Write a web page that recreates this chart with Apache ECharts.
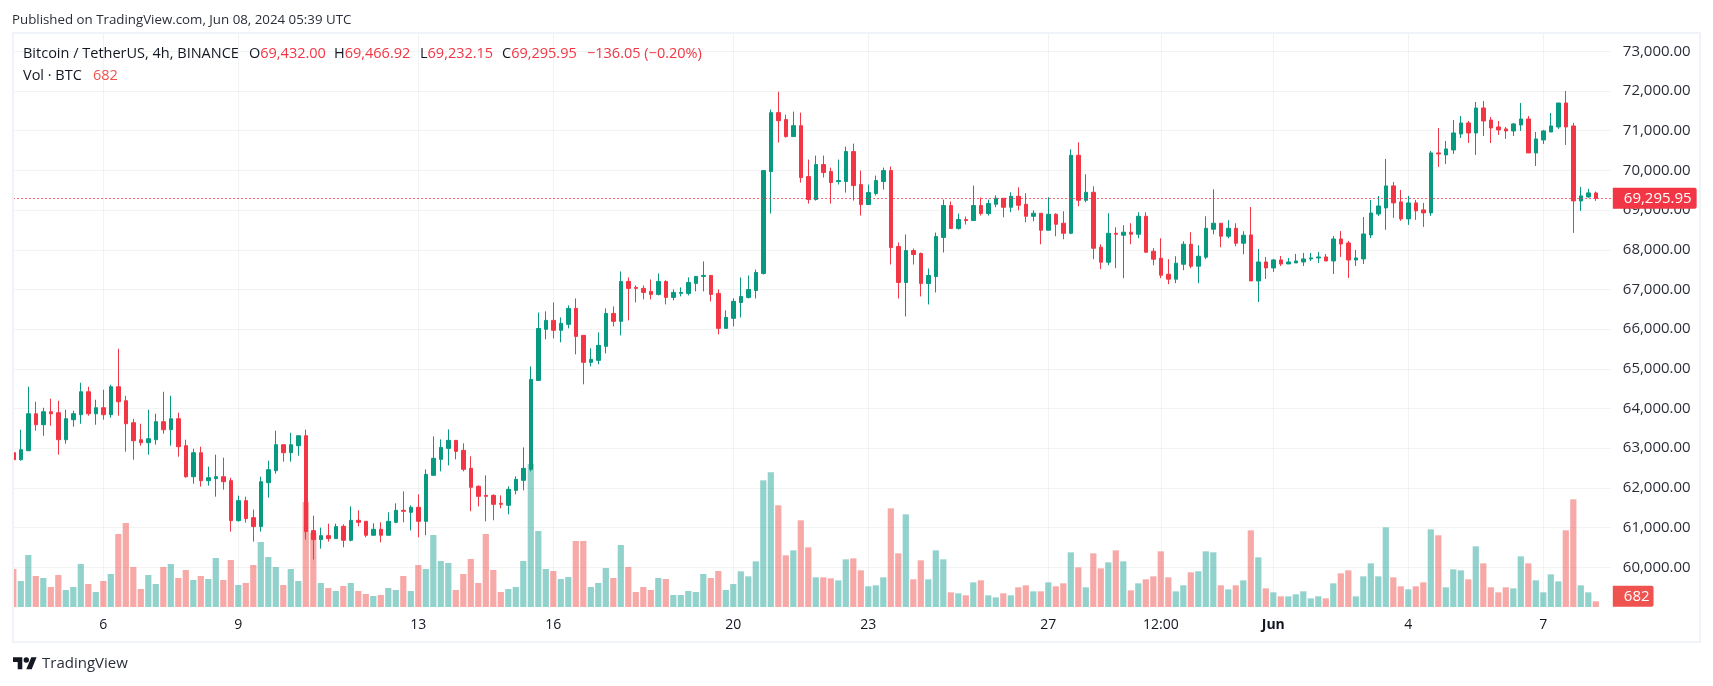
<!DOCTYPE html>
<html>
<head>
<meta charset="utf-8">
<title>BTCUSDT 4h</title>
<script src="https://cdn.jsdelivr.net/npm/echarts@6/dist/echarts.min.js"></script>
<style>
html, body { margin: 0; padding: 0; background: #fff; }
#chart { width: 1713px; height: 686px; }
</style>
</head>
<body>
<div id="chart"></div>
<script>
var opens = [
  62887,62711,62938,63869,63592,63919,63894,63215,63718,63844,
  64423,63869,64020,63844,64549,64196,63643,63215,63139,63215,
  63668,63466,63743,63064,62283,62887,62183,62233,62283,62183,
  61176,61679,61251,61025,62132,62434,63089,62887,63064,63315,
  60924,60698,60798,60723,61033,60681,61184,61159,60807,60958,
  60807,61134,61436,61385,61511,61159,62317,62720,62996,63198,
  62946,62493,62040,61813,61813,61612,61562,61939,62191,62468,
  64708,65995,66221,65970,66121,66523,65844,65164,65214,65567,
  66397,66196,67203,67052,67027,66951,66876,67203,66800,66901,
  66901,67153,67329,67354,66901,66020,66272,66672,66798,66974,
  67402,69970,71455,71279,70851,71127,69844,69265,70146,69970,
  69718,69718,70473,69642,69139,69416,69718,69995,68082,67176,
  67981,67906,67151,67327,68309,69114,68535,68762,68736,69114,
  68913,69146,69297,69071,69348,69146,68844,68920,68492,68895,
  68668,68416,70380,69247,69448,68064,67686,68416,68366,68442,
  68391,68844,67963,67787,67384,67259,67636,68139,67586,67812,
  68517,68668,68341,68542,68165,68373,67215,67693,67542,67744,
  67643,67668,67693,67769,67794,67819,67718,68272,68171,67743,
  67769,68373,68901,69055,69609,69206,68778,69181,69005,68929,
  70440,70389,70515,70918,71195,70943,71572,71270,71094,71044,
  70993,71144,71295,70440,70767,70968,71094,71698,71119,69231,
  69332,69432
];
var closes = [
  62711,62963,63869,63592,63919,63869,63215,63743,63869,64423,
  63869,64020,63844,64549,64171,63617,63189,63139,63240,63668,
  63466,63743,63038,62283,62887,62183,62258,62283,62157,61176,
  61679,61226,61025,62157,62460,63089,62887,63089,63315,60899,
  60698,60798,60723,61025,60681,61184,61134,60807,60958,60807,
  61159,61436,61411,61511,61159,62342,62745,63021,63198,62921,
  62468,62015,61788,61788,61587,61587,61964,62216,62493,64733,
  66017,66221,65970,66146,66523,65818,65164,65240,65592,66397,
  66196,67203,67027,67027,66926,66876,67203,66800,66926,66926,
  67178,67329,67354,66876,66020,66297,66700,66823,66999,67428,
  69995,71455,71253,70851,71127,69819,69265,70146,69945,69693,
  69743,70473,69617,69139,69441,69743,69995,68057,67176,67981,
  67881,67151,67352,68334,69114,68535,68762,68736,69114,68913,
  69164,69297,69071,69348,69121,68844,68920,68492,68895,68643,
  68416,70380,69247,69448,68039,67686,68416,68391,68442,68391,
  68844,67938,67762,67359,67259,67661,68139,67586,67837,68542,
  68668,68341,68542,68165,68366,67215,67693,67542,67744,67643,
  67693,67718,67769,67794,67819,67718,68272,68146,67743,67794,
  68398,68927,69103,69609,69181,68778,69181,68980,68929,70440,
  70414,70540,70943,71195,70943,71572,71245,71069,71019,70993,
  71170,71295,70440,70792,70993,71119,71698,71094,69231,69357,
  69433,69295.95
];
var highs = [
  63592,63466,64549,64171,64020,64247,64196,63970,63945,64649,
  64549,64221,64473,64599,65505,64322,63743,63617,63970,63869,
  64423,64322,63894,63215,62988,63038,62535,62837,62762,62258,
  61805,61780,61453,62283,62686,63441,63089,63391,63315,63466,
  61302,61000,61100,61100,61083,61536,61436,61159,61109,61134,
  61385,61612,61914,61562,61838,62468,63298,63223,63475,63198,
  63122,62795,62065,62317,61838,61813,62040,62292,63021,65060,
  66419,66448,66674,66297,66599,66775,65844,65517,65919,66523,
  66574,67455,67304,67102,67102,67253,67404,67228,67002,67052,
  67304,67329,67706,67354,67002,66473,66775,67302,67352,67503,
  69995,71530,71983,71404,71480,71455,70272,70372,70372,70070,
  70272,70599,70674,69995,69642,69869,70070,70096,68183,68384,
  68032,67931,67528,68434,69265,69215,68913,68837,69617,69315,
  69265,69373,69297,69448,69574,69423,68995,68920,69322,68920,
  68970,70531,70707,69901,69599,68139,68920,68567,68618,68668,
  68945,68945,68039,68290,67762,67837,68215,68441,68114,68844,
  69524,68668,68744,68668,68467,69078,68020,67819,67769,67844,
  67794,67895,67920,67920,67945,67895,68348,68473,68222,67995,
  68826,69254,69354,70289,69710,69508,69357,69257,69181,70490,
  71069,70742,71270,71371,71245,71723,71748,71346,71245,71094,
  71195,71698,71371,70968,71019,71446,71698,72000,71195,69584,
  69534,69466.92
];
var lows = [
  62535,62686,62938,63441,63315,63567,62837,63114,63542,63617,
  63819,63592,63718,63768,63819,62913,62711,63064,62837,63089,
  63366,63064,62787,62258,62107,62032,62057,61780,61956,60899,
  61151,61126,60647,60899,61755,62359,62661,62661,62812,60698,
  60194,60471,60647,60723,60504,60655,61033,60756,60807,60630,
  60807,61109,61134,60932,60756,60807,62317,62417,62568,62720,
  62417,61411,61536,61159,61184,61486,61335,61838,61939,62417,
  64708,65743,65768,65668,66020,65365,64610,65063,65114,65391,
  66070,65844,66221,66674,66750,66750,66850,66624,66725,66825,
  66850,66951,66951,66699,65869,66020,66070,66295,66773,66773,
  67377,68913,70700,70825,70851,69693,69164,69240,69819,69164,
  69643,69441,69240,68862,69139,69366,69517,67629,66773,66320,
  67629,66823,66622,66924,67931,68535,68510,68636,68736,68862,
  68862,69071,68819,68945,68995,68693,68718,68139,68492,68341,
  68265,68391,69096,69197,67762,67510,67611,67535,67284,68139,
  68290,67938,67611,67284,67133,67158,67485,67535,67158,67762,
  68391,68064,68290,68089,67888,67215,66686,67265,67442,67593,
  67643,67668,67593,67718,67668,67718,67391,67819,67290,67593,
  67643,68297,68851,68502,68804,68728,68627,68753,68577,68854,
  70087,70163,70414,70817,70691,70389,70867,70691,70893,70792,
  70867,70993,70440,70112,70666,70968,71044,70641,68426,68980,
  69307,69232.15
];
var volumes = [
  4560,3120,6240,3720,3480,2400,3840,2040,2400,5160,
  2760,1800,3120,3960,8760,10080,4800,2160,3840,2760,
  4800,5160,3480,4440,3240,3720,3360,5880,3240,5640,
  2640,2880,5040,7800,6000,4800,2640,4560,3120,12600,
  8880,2880,2280,1920,2520,2880,1920,1560,1320,1440,
  2280,2040,3720,1920,5040,4560,8640,5520,5280,2040,
  3960,5760,2880,8760,4440,1800,2160,2400,5520,17160,
  9120,4560,4320,3360,3600,7920,7920,2400,2880,4680,
  3480,7440,4800,1800,2400,2040,3480,3360,1440,1440,
  1920,1800,3960,3480,4320,2040,2760,4280,3680,5480,
  15200,16160,12200,6200,6800,10400,7160,3560,3560,3440,
  3200,5720,5840,4400,2480,2600,3560,11840,6440,11120,
  3320,5600,3320,6800,5720,1760,1640,1400,2960,3200,
  1400,1160,1640,1400,2360,2600,1880,1880,2960,2480,
  2840,6560,4760,2360,6440,4640,5360,6800,5480,2000,
  2840,3320,3680,6680,3560,1880,2600,4160,4280,6680,
  6560,2600,2120,2600,3200,9200,5960,2240,1760,1280,
  1280,1520,1880,1040,1280,1040,2840,4040,4400,1280,
  3680,5240,3680,9560,3560,2480,2120,2480,2960,9320,
  8600,2360,4520,4400,3320,7280,5240,2360,1760,2360,
  2240,6080,5240,3200,1760,3920,3080,9200,12920,2600,
  1760,682
];
var tickIndex = [12, 30, 54, 72, 96, 114, 138, 153, 168, 186, 204];
var tickLabels = ['6', '9', '13', '16', '20', '23', '27', '12:00', 'Jun', '4', '7'];

var up = '#089981';
var down = '#F23645';
var font = '"Open Sans", sans-serif';
var legendSize = 14.5;

// 212 candles plus two empty slots on the right
var categories = [];
for (var i = 0; i < 214; i++) {
    categories.push(String(i));
}

var candleData = [];
var volumeData = [];
for (var j = 0; j < opens.length; j++) {
    candleData.push([opens[j], closes[j], lows[j], highs[j]]);
    volumeData.push({
        value: volumes[j],
        itemStyle: { color: closes[j] >= opens[j] ? 'rgba(38,166,154,0.5)' : 'rgba(239,83,80,0.5)' }
    });
}

var gridColor = 'rgba(42,46,57,0.06)';

function isTick(index) {
    return tickIndex.indexOf(index) !== -1;
}

// one legend piece placed at its own x
function legendPiece(left, top, text) {
    return {
        text: text,
        left: left,
        top: top,
        padding: 0,
        textStyle: {
            fontWeight: 'normal',
            rich: {
                k: { color: '#131722', fontFamily: font, fontSize: legendSize, fontWeight: 'normal' },
                r: { color: down, fontFamily: font, fontSize: legendSize, fontWeight: 'normal' },
                v: { color: '#EF5350', fontFamily: font, fontSize: legendSize, fontWeight: 'normal' }
            }
        }
    };
}

var chart = echarts.init(document.getElementById('chart'));

chart.setOption({
    animation: false,
    backgroundColor: '#fff',
    title: [
        {
            text: 'Published on TradingView.com, Jun 08, 2024 05:39 UTC',
            left: 12, top: 14, padding: 0,
            textStyle: { color: '#2a2e39', fontFamily: font, fontSize: 13.3, fontWeight: 'normal' }
        },
        legendPiece(23, 46, '{k|Bitcoin / TetherUS, 4h, BINANCE}'),
        legendPiece(249, 46, '{k|O}{r|69,432.00}'),
        legendPiece(334, 46, '{k|H}{r|69,466.92}'),
        legendPiece(420, 46, '{k|L}{r|69,232.15}'),
        legendPiece(502, 46, '{k|C}{r|69,295.95}'),
        legendPiece(587, 46, '{r|−136.05 (−0.20%)}'),
        legendPiece(23, 68, '{k|Vol · BTC}'),
        legendPiece(93, 68, '{v|682}')
    ],
    grid: { left: 13.3, top: 34, width: 1597.5, height: 573 },
    xAxis: {
        type: 'category',
        data: categories,
        boundaryGap: false,
        axisLine: { show: false },
        axisTick: { show: false },
        splitLine: {
            show: true,
            interval: function (index) { return isTick(index); },
            lineStyle: { color: gridColor }
        },
        axisLabel: {
            interval: function (index) { return isTick(index); },
            margin: 11,
            color: '#131722',
            fontFamily: font,
            fontSize: 14,
            formatter: function (value, index) {
                var text = tickLabels[tickIndex.indexOf(index)];
                return text === 'Jun' ? '{b|Jun}' : text;
            },
            rich: { b: { fontWeight: 'bold', fontFamily: font, fontSize: 14, color: '#131722' } }
        }
    },
    yAxis: [
        {
            type: 'value',
            position: 'right',
            min: 59000,
            max: 73436,
            interval: 1000,
            axisLine: { show: false },
            axisTick: { show: false },
            splitLine: { show: true, showMinLine: false, showMaxLine: false, lineStyle: { color: gridColor } },
            axisLabel: {
                margin: 12,
                color: '#2a2e39',
                fontFamily: font,
                fontSize: 15,
                formatter: function (v) {
                    if (v % 1000 !== 0 || v === 59000) { return ''; }
                    return v.toLocaleString('en-US', { minimumFractionDigits: 2 });
                }
            }
        },
        {
            type: 'value',
            show: false,
            min: 0,
            max: 68760,
            splitLine: { show: false }
        }
    ],
    series: [
        {
            name: 'Vol',
            type: 'bar',
            yAxisIndex: 1,
            barWidth: 6.2,
            z: 1,
            data: volumeData,
            markLine: {
                silent: true,
                symbol: 'none',
                lineStyle: { color: 'rgba(239,83,80,0)' },
                label: {
                    position: 'end',
                    distance: 2,
                    offset: [0, -5],
                    formatter: '682',
                    color: '#fff',
                    fontFamily: font,
                    fontSize: 15,
                    lineHeight: 17,
                    backgroundColor: '#EF5350',
                    padding: [2, 4, 2, 11],
                    borderRadius: [0, 2, 2, 0]
                },
                data: [{ yAxis: volumes[volumes.length - 1] }]
            }
        },
        {
            name: 'BTCUSDT',
            type: 'candlestick',
            barWidth: 4,
            z: 3,
            itemStyle: {
                color: up,
                color0: down,
                borderColor: up,
                borderColor0: down,
                borderWidth: 1
            },
            data: candleData,
            markLine: {
                silent: true,
                symbol: 'none',
                lineStyle: { color: down, type: [1.5, 2.5], width: 1 },
                label: {
                    position: 'end',
                    distance: 2,
                    formatter: '69,295.95',
                    color: '#fff',
                    fontFamily: font,
                    fontSize: 15,
                    lineHeight: 17,
                    backgroundColor: down,
                    padding: [2, 5, 2, 11],
                    borderRadius: [0, 2, 2, 0]
                },
                data: [{ yAxis: closes[closes.length - 1] }]
            }
        }
    ],
    graphic: [
        // the first candle and bar are cut off by the frame
        {
            type: 'rect',
            silent: true,
            z: 100,
            shape: { x: 0, y: 34, width: 13, height: 600 },
            style: { fill: '#fff' }
        },
        {
            type: 'rect',
            silent: true,
            z: 101,
            shape: { x: 13, y: 33, width: 1687, height: 609 },
            style: { fill: 'none', stroke: '#F0F3FA', lineWidth: 2 }
        },
        {
            type: 'polygon',
            silent: true,
            shape: { points: [[13, 657.3], [22.3, 657.3], [22.3, 669.3], [17.7, 669.3], [17.7, 662], [13, 662]] },
            style: { fill: '#131722' }
        },
        {
            type: 'polygon',
            silent: true,
            shape: { points: [[31.3, 657.3], [36.6, 657.3], [31.7, 669.3], [26.3, 669.3]] },
            style: { fill: '#131722' }
        },
        {
            type: 'circle',
            silent: true,
            shape: { cx: 26.3, cy: 660, r: 2.7 },
            style: { fill: '#131722' }
        },
        {
            type: 'text',
            silent: true,
            x: 42,
            y: 656,
            style: { text: 'TradingView', fill: '#2a2e39', font: '15px ' + font }
        }
    ]
});
</script>
</body>
</html>
